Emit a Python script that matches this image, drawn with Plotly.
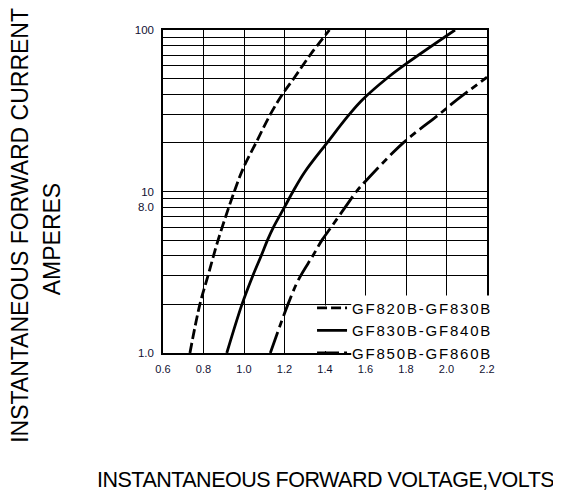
import plotly.graph_objects as go

# ---- data ----
v_820 = [0.733, 0.782, 0.822, 0.872, 0.952, 0.997, 1.059, 1.13, 1.19, 1.25, 1.33, 1.422]
i_820 = [1, 2, 3, 5, 10, 14, 20, 30, 40, 51, 71, 100]

v_830 = [0.915, 0.99, 1.043, 1.085, 1.116, 1.145, 1.20, 1.242, 1.30, 1.41, 1.52, 1.585, 1.712, 1.81, 2.042]
i_830 = [1, 2, 3, 4, 5, 6, 8, 10, 13.2, 20, 30, 37, 51, 63, 100]

v_850 = [1.13, 1.217, 1.27, 1.34, 1.385, 1.43, 1.50, 1.555, 1.595, 1.786, 1.963, 2.04, 2.2]
i_850 = [1, 2, 2.86, 4, 5, 6, 8, 10, 11.4, 20, 30, 36, 51]

names = ["GF820B-GF830B", "GF830B-GF840B", "GF850B-GF860B"]

x_ticks = [0.6, 0.8, 1.0, 1.2, 1.4, 1.6, 1.8, 2.0, 2.2]
x_ticktext = ["0.6", "0.8", "1.0", "1.2", "1.4", "1.6", "1.8", "2.0", "2.2"]
y_grid = [1, 2, 3, 4, 5, 6, 7, 8, 9, 10, 20, 30, 40, 50, 60, 70, 80, 90, 100]
y_labels = {1: "1.0", 8: "8.0", 10: "10", 100: "100"}

FONT = "Liberation Sans, Arial, sans-serif"


def spaced(s, px):
    return '<span style="letter-spacing:%spx">' % px + s + "</span>"


fig = go.Figure()
fig.add_trace(go.Scatter(x=v_820, y=i_820, mode="lines", name=spaced(names[0], 1.8),
                         line=dict(color="black", width=2.8, dash="10px,4px",
                                   shape="spline", smoothing=1.0)))
fig.add_trace(go.Scatter(x=v_830, y=i_830, mode="lines", name=spaced(names[1], 1.8),
                         line=dict(color="black", width=2.8,
                                   shape="spline", smoothing=1.0)))
fig.add_trace(go.Scatter(x=v_850, y=i_850, mode="lines", name=spaced(names[2], 1.8),
                         line=dict(color="black", width=2.8, dash="22px,5px,7px,5px",
                                   shape="spline", smoothing=1.0)))

# white patches behind the legend (the reference legend hides the grid there)
legend_bg = [
    dict(x0=0.408, x1=0.581, y0=0.006, y1=0.147),
    dict(x0=0.581, x1=1.04, y0=-0.02, y1=0.178),
]
shapes = [dict(type="rect", xref="paper", yref="paper", layer="above",
               fillcolor="white", line=dict(width=0), **r) for r in legend_bg]

fig.update_layout(
    width=553, height=488,
    margin=dict(l=155, r=74, t=22, b=143),
    paper_bgcolor="white", plot_bgcolor="white",
    font=dict(family=FONT, color="black"),
    showlegend=True,
    legend=dict(x=0.46, y=0.19, xanchor="left", yanchor="top",
                bgcolor="rgba(0,0,0,0)", borderwidth=0,
                font=dict(family=FONT, size=15, color="black"),
                tracegroupgap=0),
    shapes=shapes,
    xaxis=dict(range=[0.6, 2.2], tickvals=x_ticks, ticktext=x_ticktext,
               showgrid=True, gridcolor="black", gridwidth=1,
               showline=True, linecolor="black", linewidth=1.5, mirror=True,
               ticks="outside", ticklen=5, tickcolor="rgba(0,0,0,0)",
               tickfont=dict(family=FONT, size=11, color="#111133"),
               zeroline=False),
    yaxis=dict(type="log", range=[0, 2], tickvals=y_grid,
               ticktext=[y_labels.get(v, "") for v in y_grid],
               showgrid=True, gridcolor="black", gridwidth=1,
               showline=True, linecolor="black", linewidth=1.5, mirror=True,
               ticks="outside", ticklen=5, tickcolor="rgba(0,0,0,0)",
               tickfont=dict(family=FONT, size=11.5, color="#111133"),
               zeroline=False),
    annotations=[
        dict(text="INSTANTANEOUS FORWARD CURRENT", xref="paper", yref="paper",
             x=-0.44, y=0.395, xanchor="center", yanchor="middle",
             textangle=-90, showarrow=False,
             font=dict(family=FONT, size=23, color="black")),
        dict(text="AMPERES", xref="paper", yref="paper",
             x=-0.3426, y=0.352, xanchor="center", yanchor="middle",
             textangle=-90, showarrow=False,
             font=dict(family=FONT, size=23, color="black")),
        dict(text=spaced("INSTANTANEOUS FORWARD VOLTAGE,VOLTS", -0.5),
             xref="paper", yref="paper",
             x=0.5, y=-0.392, xanchor="center", yanchor="middle",
             showarrow=False,
             font=dict(family=FONT, size=21.5, color="black")),
    ],
)

fig.write_html("out.html")
